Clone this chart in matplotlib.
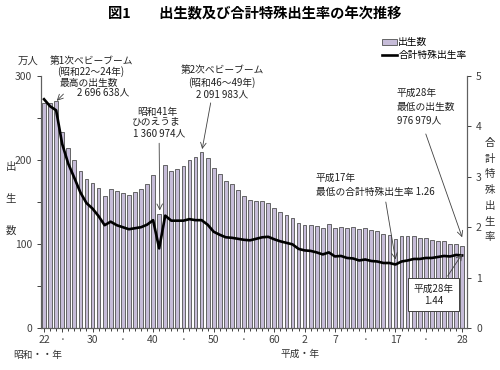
import matplotlib
matplotlib.use("Agg")
import matplotlib.pyplot as plt
import numpy as np

plt.rcParams['font.family'] = ['Noto Sans CJK JP', 'DejaVu Sans']

years = list(range(1947, 2017))
births = [267.9, 268.2, 269.7, 233.8, 213.8, 200.5, 186.9, 177.0, 173.1, 166.5,
          156.7, 165.3, 162.6, 160.6, 158.9, 161.9, 166.0, 171.7, 182.4, 136.1,
          193.6, 187.2, 188.9, 193.4, 200.1, 203.9, 209.2, 203.0, 190.1, 183.3,
          175.5, 170.9, 164.3, 157.7, 152.9, 151.5, 150.9, 149.0, 143.2, 138.3,
          134.7, 131.4, 124.7, 122.2, 122.3, 120.9, 118.8, 123.8, 118.7, 120.7,
          119.2, 120.3, 117.8, 119.1, 117.1, 115.4, 112.4, 111.1, 106.3, 109.3,
          109.0, 109.1, 107.0, 107.1, 105.1, 103.7, 103.0, 100.4, 100.6, 97.7]
tfr = [4.54, 4.40, 4.32, 3.65, 3.26, 2.98, 2.69, 2.48, 2.37, 2.22,
       2.04, 2.11, 2.04, 2.00, 1.96, 1.98, 2.00, 2.05, 2.14, 1.58,
       2.23, 2.13, 2.13, 2.13, 2.16, 2.14, 2.14, 2.05, 1.91, 1.85,
       1.80, 1.79, 1.77, 1.75, 1.74, 1.77, 1.80, 1.81, 1.76, 1.72,
       1.69, 1.66, 1.57, 1.54, 1.53, 1.50, 1.46, 1.50, 1.42, 1.43,
       1.39, 1.38, 1.34, 1.36, 1.33, 1.32, 1.29, 1.29, 1.26, 1.32,
       1.34, 1.37, 1.37, 1.39, 1.39, 1.41, 1.43, 1.42, 1.45, 1.44]
tick_years = [1947, 1950, 1955, 1960, 1965, 1970, 1975, 1980, 1985, 1990,
              1995, 2000, 2005, 2010, 2016]
tick_labels = ["22", "·", "30", "·", "40", "·", "50", "·", "60", "2",
               "7", "·", "17", "·", "28"]

bar_color = "#c6bcd8"
edge_color = "#505050"

fig = plt.figure(figsize=(5, 3.7), dpi=100)
ax = fig.add_axes([0.082, 0.1135, 0.852, 0.681])
ax2 = ax.twinx()

x = np.array(years)
ax.bar(x, births, width=0.62, color=bar_color, edgecolor=edge_color, linewidth=0.6,
       label="出生数")
ax2.plot(x, tfr, color="black", linewidth=1.9, label="合計特殊出生率")

ax.set_ylim(0, 300)
ax2.set_ylim(0, 5)
ax.set_xlim(1946.5, 2016.8)

ax.set_yticks([0, 100, 200, 300])
ax.set_yticks([50, 150, 250], minor=True)
ax2.set_yticks([0, 1, 2, 3, 4, 5])
ax.set_xticks(tick_years)
ax.set_xticklabels(tick_labels)
ax.set_xticks(years, minor=True)

for a in (ax, ax2):
    a.spines['top'].set_visible(False)
    for s in a.spines.values():
        s.set_color("#606060")
        s.set_linewidth(0.8)
ax.tick_params(axis='both', which='both', labelsize=7.5, colors="#404040", length=3, width=0.7)
ax.tick_params(axis='x', which='major', length=3, pad=2)
ax.tick_params(axis='x', which='minor', length=2)
ax.tick_params(axis='y', which='minor', length=3)
ax2.tick_params(axis='y', labelsize=7.5, colors="#404040", length=3, width=0.7)

txt_kw = dict(fontsize=7, color="#202020")
lab_kw = dict(fontsize=7.5, color="#303030", ha="center", va="center")

fig.text(0.51, 0.96, "図1　　出生数及び合計特殊出生率の年次推移", ha="center", va="center",
         fontsize=10.3, fontweight="bold")
fig.text(0.057, 0.835, "万人", **lab_kw)
for ch, fy in zip("出生数", [0.549, 0.462, 0.376]):
    fig.text(0.022, fy, ch, **lab_kw)
fig.text(0.98, 0.486, "合\n計\n特\n殊\n出\n生\n率", linespacing=1.72, **lab_kw)
fig.text(0.076, 0.04, "昭和・・年", ha="center", va="center", fontsize=7, color="#303030")
fig.text(0.6, 0.043, "平成・年", ha="center", va="center", fontsize=7, color="#303030")

arrow = dict(arrowstyle="->", color="#404040", lw=0.6, shrinkA=0, shrinkB=0)


def lines(axis, xs, ys, texts, ha="center"):
    for xx, yy, t in zip(xs, ys, texts):
        axis.text(xx, yy, t, ha=ha, va="center", **txt_kw)


lines(ax, [1954.8, 1954.7, 1954.4, 1956.8], [318, 305, 292, 280],
      ["第1次ベビーブーム", "(昭和22～24年)", "最高の出生数", "2 696 638人"])
ax.annotate("", xy=(1949.1, 270.5), xytext=(1950.2, 278.5), arrowprops=arrow)

lines(ax, [1976.5, 1976.3, 1976.3], [307, 292, 277.5],
      ["第2次ベビーブーム", "(昭和46～49年)", "2 091 983人"])
ax.annotate("", xy=(1973.1, 213), xytext=(1974.5, 268), arrowprops=arrow)

lines(ax, [1965.7, 1965.6, 1966.0], [257, 245, 232],
      ["昭和41年", "ひのえうま", "1 360 974人"])
ax.annotate("", xy=(1966.1, 140), xytext=(1966.0, 220), arrowprops=arrow)

lines(ax, [1991.8, 1991.8], [178.6, 162], ["平成17年", "最低の合計特殊出生率 1.26"],
      ha="left")
ax2.annotate("", xy=(2005.0, 1.36), xytext=(2003.4, 2.50), arrowprops=arrow)

lines(ax, [2005.2, 2005.2, 2005.2], [280, 263, 247.5],
      ["平成28年", "最低の出生数", "976 979人"], ha="left")
ax.annotate("", xy=(2016.0, 108), xytext=(2010.0, 231), arrowprops=arrow)

ax2.annotate("", xy=(2016.0, 1.47), xytext=(2013.6, 1.03), arrowprops=arrow)
ax2.text(2011.3, 0.66, "平成28年\n1.44", ha="center", va="center", linespacing=1.3,
         fontsize=7, color="#202020",
         bbox=dict(boxstyle="square,pad=0.55", facecolor="white", edgecolor="#404040",
                   linewidth=0.7))

h1, l1 = ax.get_legend_handles_labels()
h2, l2 = ax2.get_legend_handles_labels()
fig.legend(h1 + h2, l1 + l2, loc="upper left", bbox_to_anchor=(0.752, 0.915),
           frameon=False, fontsize=7, handlelength=1.6, handleheight=0.5,
           handletextpad=0.1, labelspacing=0.3, borderpad=0.1)

fig.savefig("out.png", dpi=100)
